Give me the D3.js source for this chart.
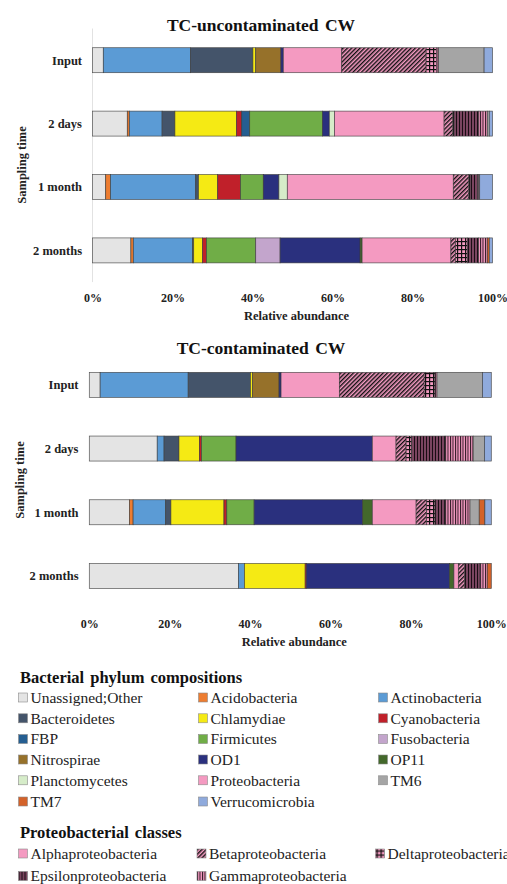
<!DOCTYPE html>
<html>
<head>
<meta charset="utf-8">
<script src="https://cdn.jsdelivr.net/npm/d3@7/dist/d3.min.js"></script>
<style>
  html, body { margin: 0; padding: 0; background: #fff; }
  svg { display: block; }
</style>
</head>
<body>
<svg id="fig" width="507" height="884"></svg>
<script>
const FONT = "Liberation Serif, DejaVu Serif";

// Sampling times (rows of each panel)
const samples = ["Input", "2 days", "1 month", "2 months"];

// Stack order of taxa within every bar
const taxa = [
  "Unassigned;Other", "Acidobacteria", "Actinobacteria", "Bacteroidetes",
  "Chlamydiae", "Cyanobacteria", "FBP", "Firmicutes", "Fusobacteria",
  "Nitrospirae", "OD1", "OP11", "Planctomycetes",
  "Alphaproteobacteria", "Betaproteobacteria", "Deltaproteobacteria",
  "Epsilonproteobacteria", "Gammaproteobacteria",
  "TM6", "TM7", "Verrucomicrobia"
];

// Relative abundance (%) per sample, in the taxa order above
// TC-uncontaminated CW
const uncontInput   = [2.7, 0, 21.8, 15.6, 0.7, 0, 0, 0, 0, 6.3, 0.6, 0, 0, 14.6, 21.1, 2.6, 0, 0.5, 11.4, 0, 2.1];
const uncont2Days   = [8.7, 0.5, 8.2, 3.2, 15.4, 1.3, 2.0, 18.2, 0, 0, 1.7, 0, 1.3, 27.4, 2.1, 0.4, 6.2, 2.1, 0.5, 0, 0.8];
const uncont1Month  = [3.3, 1.2, 21.3, 0.7, 4.8, 5.7, 0, 5.7, 0, 0, 3.9, 0, 2.1, 41.5, 3.8, 0.4, 1.9, 0.3, 0.2, 0, 3.2];
const uncont2Months = [9.6, 0.6, 14.8, 0.3, 2.2, 1.0, 0, 12.3, 6.1, 0, 20.0, 0.5, 0, 22.2, 1.2, 2.9, 2.8, 2.2, 0, 0.5, 0.8];
// TC-contaminated CW
const contInput   = [2.7, 0, 21.9, 15.5, 0.5, 0, 0, 0, 0, 6.6, 0.5, 0, 0, 14.5, 21.1, 2.7, 0, 0.5, 11.3, 0, 2.2];
const cont2Days   = [16.9, 0, 1.7, 3.7, 5.1, 0.5, 0, 8.6, 0, 0, 33.9, 0, 0, 5.9, 2.5, 1.4, 8.3, 7.0, 2.8, 0, 1.7];
const cont1Month  = [10.0, 0.9, 8.1, 1.3, 13.2, 0.7, 0, 6.8, 0, 0, 27.0, 2.4, 0, 10.9, 2.6, 2.1, 2.5, 6.2, 2.3, 1.4, 1.6];
const cont2Months = [37.1, 0, 1.5, 0, 15.1, 0.3, 0, 0, 0, 0, 35.6, 1.1, 0, 1.1, 1.6, 0, 3.8, 1.8, 0, 1.0, 0];

// Percent tick values on the x axis
const xTicks = [0, 20, 40, 60, 80, 100];

// Legend entries
const phylumLegend = [
  "Unassigned;Other", "Acidobacteria", "Actinobacteria",
  "Bacteroidetes", "Chlamydiae", "Cyanobacteria",
  "FBP", "Firmicutes", "Fusobacteria",
  "Nitrospirae", "OD1", "OP11",
  "Planctomycetes", "Proteobacteria", "TM6",
  "TM7", "Verrucomicrobia"
];
const classLegend = [
  "Alphaproteobacteria", "Betaproteobacteria", "Deltaproteobacteria",
  "Epsilonproteobacteria", "Gammaproteobacteria"
];

// Fill for each taxon (solid colours or pattern ids)
const PINK = "#f49ac1";
const fills = {
  "Unassigned;Other": "#e4e4e4",
  "Acidobacteria": "#ed7d31",
  "Actinobacteria": "#5b9bd5",
  "Bacteroidetes": "#44546a",
  "Chlamydiae": "#f5ea14",
  "Cyanobacteria": "#c0202a",
  "FBP": "#255e91",
  "Firmicutes": "#70ad47",
  "Fusobacteria": "#c3a5cc",
  "Nitrospirae": "#96712a",
  "OD1": "#2a307e",
  "OP11": "#43682b",
  "Planctomycetes": "#d6ecc9",
  "Proteobacteria": PINK,
  "Alphaproteobacteria": PINK,
  "Betaproteobacteria": "url(#pBeta)",
  "Deltaproteobacteria": "url(#pDelta)",
  "Epsilonproteobacteria": "url(#pEps)",
  "Gammaproteobacteria": "url(#pGamma)",
  "TM6": "#a5a5a5",
  "TM7": "#d3622a",
  "Verrucomicrobia": "#8faadc"
};

const svg = d3.select("#fig").attr("font-family", FONT);
const defs = svg.append("defs");

// Betaproteobacteria: dense diagonal black hatching on pink
const pb = defs.append("pattern").attr("id", "pBeta").attr("patternUnits", "userSpaceOnUse")
  .attr("width", 3).attr("height", 3).attr("patternTransform", "rotate(45)");
pb.append("rect").attr("width", 3).attr("height", 3).attr("fill", PINK);
pb.append("rect").attr("width", 1.4).attr("height", 3).attr("fill", "#111");

// Deltaproteobacteria: black grid on pink
const pd = defs.append("pattern").attr("id", "pDelta").attr("patternUnits", "userSpaceOnUse")
  .attr("width", 4).attr("height", 4);
pd.append("rect").attr("width", 4).attr("height", 4).attr("fill", PINK);
pd.append("rect").attr("x", 0).attr("y", 1).attr("width", 4).attr("height", 1.2).attr("fill", "#111");
pd.append("rect").attr("x", 1).attr("y", 0).attr("width", 1.2).attr("height", 4).attr("fill", "#111");

// Epsilonproteobacteria: dark maroon with black vertical lines
const pe = defs.append("pattern").attr("id", "pEps").attr("patternUnits", "userSpaceOnUse")
  .attr("width", 3).attr("height", 3);
pe.append("rect").attr("width", 3).attr("height", 3).attr("fill", "#7a4560");
pe.append("rect").attr("width", 1).attr("height", 3).attr("fill", "#1a0d14");

// Gammaproteobacteria: fine dark vertical lines on pink
const pg = defs.append("pattern").attr("id", "pGamma").attr("patternUnits", "userSpaceOnUse")
  .attr("width", 2.5).attr("height", 3);
pg.append("rect").attr("width", 2.5).attr("height", 3).attr("fill", PINK);
pg.append("rect").attr("width", 1).attr("height", 3).attr("fill", "#2a1520");

function drawPanel(cfg) {
  const rows = cfg.values.map((vals, i) => {
    const o = { sample: samples[i] };
    taxa.forEach((t, j) => { o[t] = vals[j]; });
    return o;
  });
  const series = d3.stack().keys(taxa)(rows);

  const x = d3.scaleLinear().domain([0, 100]).range([cfg.x0, cfg.x1]);
  const y = d3.scaleBand().domain(samples).range([cfg.y0, cfg.y1])
    .paddingInner(cfg.pad).paddingOuter(cfg.pad / 2);

  const g = svg.append("g");

  if (cfg.axisLine) {
    g.append("line")
      .attr("x1", cfg.x0).attr("x2", cfg.x0)
      .attr("y1", cfg.y0).attr("y2", cfg.y1)
      .attr("stroke", "#e2e2e2").attr("stroke-width", 1);
  }

  g.selectAll("g.layer").data(series).join("g").attr("class", "layer")
    .attr("fill", d => fills[d.key])
    .selectAll("rect").data(d => d.filter(s => s[1] - s[0] > 0)).join("rect")
      .attr("x", d => x(d[0]))
      .attr("width", d => x(d[1]) - x(d[0]))
      .attr("y", d => y(d.data.sample))
      .attr("height", y.bandwidth())
      .attr("stroke", "#3a3a3a")
      .attr("stroke-opacity", 0.85)
      .attr("stroke-width", 0.7);

  // category labels
  g.selectAll("text.cat").data(samples).join("text").attr("class", "cat")
    .attr("x", cfg.labelX)
    .attr("y", d => y(d) + y.bandwidth() / 2)
    .attr("dy", "0.35em")
    .attr("text-anchor", "end")
    .attr("font-family", FONT)
    .attr("font-weight", "bold").attr("font-size", 12.5).attr("fill", "#222")
    .text(d => d);

  // x axis
  const ax = g.append("g").attr("transform", `translate(0,${cfg.y1})`)
    .call(d3.axisBottom(x).tickValues(xTicks).tickSize(0).tickPadding(cfg.tickPad)
      .tickFormat(d => d + "%"));
  ax.attr("font-family", FONT);
  ax.select(".domain").remove();
  ax.selectAll("text")
    .attr("font-family", FONT)
    .attr("font-weight", "bold").attr("font-size", 12).attr("fill", "#222");

  // titles
  g.append("text")
    .attr("x", cfg.titleX).attr("y", cfg.titleY)
    .attr("text-anchor", "middle").attr("dy", "0.35em")
    .attr("font-family", FONT)
    .attr("font-weight", "bold").attr("font-size", 17.5).attr("word-spacing", 2).attr("fill", "#111")
    .text(cfg.title);
  g.append("text")
    .attr("x", (cfg.x0 + cfg.x1) / 2 + 4).attr("y", cfg.xLabelY)
    .attr("text-anchor", "middle").attr("dy", "0.35em")
    .attr("font-family", FONT)
    .attr("font-weight", "bold").attr("font-size", 12.5).attr("fill", "#222")
    .text("Relative abundance");
  g.append("text")
    .attr("transform", `translate(${cfg.yLabelX},${cfg.yLabelY}) rotate(-90)`)
    .attr("text-anchor", "middle").attr("dy", "0.35em")
    .attr("font-family", FONT)
    .attr("font-weight", "bold").attr("font-size", 12.5).attr("fill", "#222")
    .text("Sampling time");
}

drawPanel({
  title: "TC-uncontaminated CW",
  values: [uncontInput, uncont2Days, uncont1Month, uncont2Months],
  x0: 92.5, x1: 492.5, y0: 28.5, y1: 282.1, pad: 0.606,
  labelX: 82, tickPad: 11, axisLine: true,
  titleX: 261, titleY: 25, xLabelY: 316, yLabelX: 22, yLabelY: 165
});

drawPanel({
  title: "TC-contaminated CW",
  values: [contInput, cont2Days, cont1Month, cont2Months],
  x0: 89.3, x1: 491.3, y0: 353, y1: 607.8, pad: 0.6075,
  labelX: 78.5, tickPad: 11.5, axisLine: false,
  titleX: 261, titleY: 348, xLabelY: 642, yLabelX: 20, yLabelY: 480
});

// Legends
function drawLegend(title, titleY, items, rowY, cols, fillOf) {
  const lg = svg.append("g");
  lg.append("text")
    .attr("x", 20).attr("y", titleY).attr("dy", "0.35em")
    .attr("font-family", FONT)
    .attr("font-weight", "bold").attr("font-size", 16.5).attr("word-spacing", 2).attr("fill", "#111")
    .text(title);
  const it = lg.selectAll("g.item").data(items).join("g").attr("class", "item")
    .attr("transform", (d, i) => `translate(${cols[i % 3]},${rowY[Math.floor(i / 3)]})`);
  it.append("rect")
    .attr("x", 0).attr("y", -4.5).attr("width", 9).attr("height", 9)
    .attr("fill", d => fillOf(d))
    .attr("stroke", "#8a8a8a").attr("stroke-width", 0.6);
  it.append("text")
    .attr("x", 12).attr("y", 0).attr("dy", "0.35em")
    .attr("font-family", FONT)
    .attr("font-size", 15.5).attr("fill", "#222")
    .text(d => d);
}

drawLegend("Bacterial phylum compositions", 677, phylumLegend,
  [697.5, 718.3, 739, 759.5, 780.3, 801.5], [18.5, 198.5, 378.5], d => fills[d]);
drawLegend("Proteobacterial classes", 832, classLegend,
  [853.5, 876], [18.5, 197, 375.5], d => fills[d]);
</script>
</body>
</html>
